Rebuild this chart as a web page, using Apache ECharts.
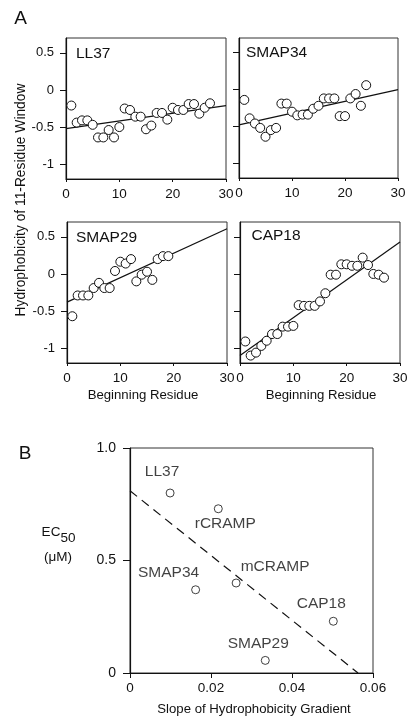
<!DOCTYPE html>
<html><head><meta charset="utf-8">
<script src="https://cdn.jsdelivr.net/npm/echarts@6/dist/echarts.min.js"></script>
<style>html,body{margin:0;padding:0;background:#fff}#c{width:415px;height:726px}</style>
</head><body><div id="c"></div>
<script>
// ---------- Panel A data ----------
const panelNames = ['LL37', 'SMAP34', 'SMAP29', 'CAP18'];
const residueLL37 = [1,2,3,4,5,6,7,8,9,10,11,12,13,14,15,16,17,18,19,20,21,22,23,24,25,26,27];
const hydroLL37 = [-0.21,-0.44,-0.41,-0.41,-0.47,-0.64,-0.64,-0.54,-0.64,-0.50,-0.25,-0.27,-0.36,-0.36,-0.53,-0.48,-0.31,-0.31,-0.40,-0.24,-0.27,-0.27,-0.19,-0.19,-0.32,-0.24,-0.18];
const residueSMAP34 = [1,2,3,4,5,6,7,8,9,10,11,12,13,14,15,16,17,18,19,20,21,22,23,24];
const hydroSMAP34 = [-0.14,-0.39,-0.46,-0.52,-0.64,-0.55,-0.52,-0.19,-0.19,-0.30,-0.35,-0.34,-0.34,-0.26,-0.22,-0.12,-0.12,-0.12,-0.36,-0.36,-0.12,-0.06,-0.22,0.06];
const residueSMAP29 = [1,2,3,4,5,6,7,8,9,10,11,12,13,14,15,16,17,18,19];
const hydroSMAP29 = [-0.57,-0.29,-0.29,-0.29,-0.19,-0.12,-0.19,-0.19,0.04,0.165,0.14,0.20,-0.10,-0.01,0.03,-0.08,0.20,0.24,0.24];
const residueCAP18 = [1,2,3,4,5,6,7,8,9,10,11,12,13,14,15,16,17,18,19,20,21,22,23,24,25,26,27];
const hydroCAP18 = [-0.91,-1.10,-1.06,-0.97,-0.90,-0.81,-0.81,-0.71,-0.71,-0.70,-0.42,-0.43,-0.43,-0.43,-0.37,-0.26,-0.01,-0.01,0.13,0.13,0.11,0.11,0.22,0.12,0.00,-0.01,-0.05];
// fitted lines: value at residue 0 and residue 30
const fitX = [0, 30];
const fitLL37 = [-0.52, -0.21];
const fitSMAP34 = [-0.48, 0.00];
const fitSMAP29 = [-0.38, 0.61];
const fitCAP18 = [-1.10, 0.43];
const xTicksA = [0, 10, 20, 30];
const yTicksA = [-1, -0.5, 0, 0.5];

// ---------- Panel B data ----------
const peptideNames = ['LL37', 'rCRAMP', 'mCRAMP', 'SMAP34', 'CAP18', 'SMAP29'];
const gradientSlope = [0.0099, 0.0218, 0.0262, 0.0162, 0.0502, 0.0334];
const ec50 = [0.80, 0.73, 0.40, 0.37, 0.23, 0.056];
const trendX = [0, 0.0563];
const trendY = [0.81, 0];
const xTicksB = [0, 0.02, 0.04, 0.06];
const yTicksB = [0, 0.5, 1.0];

const FONT = "'Liberation Sans', Arial, Helvetica, sans-serif";
const INK = '#111';

const residues = [residueLL37, residueSMAP34, residueSMAP29, residueCAP18];
const hydro = [hydroLL37, hydroSMAP34, hydroSMAP29, hydroCAP18];
const fits = [fitLL37, fitSMAP34, fitSMAP29, fitCAP18];

const gridsA = [
  {left: 66, top: 38, width: 160, height: 141},
  {left: 239, top: 38, width: 159, height: 140},
  {left: 67, top: 222, width: 160, height: 141},
  {left: 240, top: 222, width: 160, height: 141}
];
const grids = gridsA.map(g => Object.assign({show: true, borderColor: '#333', borderWidth: 1, backgroundColor: 'transparent'}, g));
grids.push({show: true, left: 130, top: 448, width: 243, height: 225, borderColor: '#333', borderWidth: 1});

const xAxes = [], yAxes = [], series = [];
for (let i = 0; i < 4; i++) {
  xAxes.push({
    type: 'value', gridIndex: i, min: 0, max: 30, interval: 10,
    axisLine: {show: true, onZero: false, lineStyle: {color: INK, width: 1.2}},
    axisTick: {show: true, length: 3, customValues: xTicksA, lineStyle: {color: INK}},
    axisLabel: {show: true, margin: 8, color: INK, fontSize: 13.5, fontFamily: FONT, customValues: xTicksA},
    splitLine: {show: false}
  });
  yAxes.push({
    type: 'value', gridIndex: i, min: -1.2, max: 0.7,
    axisLine: {show: true, onZero: false, lineStyle: {color: INK, width: 1.2}},
    axisTick: {show: true, length: 6, customValues: yTicksA, lineStyle: {color: INK}},
    axisLabel: {show: i % 2 === 0, margin: 12, color: INK, fontSize: 13, fontFamily: FONT, customValues: yTicksA},
    splitLine: {show: false}
  });
  series.push({
    type: 'line', xAxisIndex: i, yAxisIndex: i, symbol: 'none', silent: true, z: 2,
    lineStyle: {color: INK, width: 1.2},
    data: fitX.map((x, k) => [x, fits[i][k]])
  });
  series.push({
    type: 'scatter', xAxisIndex: i, yAxisIndex: i, symbol: 'circle', symbolSize: 9, z: 3,
    itemStyle: {color: '#fff', borderColor: INK, borderWidth: 1, opacity: 1},
    data: residues[i].map((x, k) => [x, hydro[i][k]])
  });
}
// panel B axes
xAxes.push({
  type: 'value', gridIndex: 4, min: 0, max: 0.06, interval: 0.02,
  axisLine: {show: true, onZero: false, lineStyle: {color: INK, width: 1.2}},
  axisTick: {show: true, length: 5, lineStyle: {color: INK}},
  axisLabel: {show: true, margin: 8, color: INK, fontSize: 13.5, fontFamily: FONT,
    formatter: v => (v === 0 ? '0' : v.toFixed(2))},
  splitLine: {show: false}
});
yAxes.push({
  type: 'value', gridIndex: 4, min: 0, max: 1.0, interval: 0.5,
  axisLine: {show: true, onZero: false, lineStyle: {color: INK, width: 1.2}},
  axisTick: {show: true, length: 7, lineStyle: {color: INK}},
  axisLabel: {show: true, margin: 14, color: INK, fontSize: 14, fontFamily: FONT,
    formatter: v => (v === 0 ? '0' : v.toFixed(1))},
  splitLine: {show: false}
});
series.push({
  type: 'line', xAxisIndex: 4, yAxisIndex: 4, symbol: 'none', silent: true, z: 2,
  lineStyle: {color: INK, width: 1.2, type: [9, 6]},
  data: trendX.map((x, k) => [x, trendY[k]])
});
const labelOffsets = [[-8, -21], [7, 15], [39, -16], [-27, -17], [-12, -18], [-7, -17]];
series.push({
  type: 'scatter', xAxisIndex: 4, yAxisIndex: 4, symbol: 'circle', symbolSize: 8, z: 3,
  itemStyle: {color: '#fff', borderColor: INK, borderWidth: 1},
  data: peptideNames.map((n, k) => ({
    name: n, value: [gradientSlope[k], ec50[k]],
    label: {show: true, position: 'inside', offset: labelOffsets[k], formatter: '{b}',
      color: INK, fontSize: 15.5, fontFamily: FONT}
  }))
});

function txt(x, y, s, size, extra) {
  return Object.assign({
    type: 'text', x: x, y: y, silent: true,
    style: {text: s, fill: INK, font: size + 'px ' + FONT, textAlign: 'center', textVerticalAlign: 'middle'}
  }, extra || {});
}
const panelLabelPos = [[76, 53.5], [246, 52.5], [76, 237.5], [251.5, 236]];
const graphic = [
  txt(20.5, 18.5, 'A', 19),
  txt(25, 454, 'B', 19),
  txt(21, 200, 'Hydrophobicity of 11-Residue Window', 13.8, {rotation: Math.PI / 2}),
  txt(143, 395, 'Beginning Residue', 13.2),
  txt(321, 395, 'Beginning Residue', 13.2),
  txt(254, 709, 'Slope of Hydrophobicity Gradient', 13.2),
  txt(51, 532, 'EC', 13.5),
  txt(68, 538, '50', 13.5),
  txt(58, 557, '(\u03bcM)', 13.5)
];
panelNames.forEach((n, i) => {
  const g = txt(panelLabelPos[i][0], panelLabelPos[i][1], n, 15.5);
  g.style.textAlign = 'left';
  graphic.push(g);
});

const chart = echarts.init(document.getElementById('c'), null, {renderer: 'canvas'});
chart.setOption({
  animation: false,
  backgroundColor: '#fff',
  textStyle: {fontFamily: FONT},
  grid: grids, xAxis: xAxes, yAxis: yAxes, series: series, graphic: graphic
});
</script>
</body></html>
